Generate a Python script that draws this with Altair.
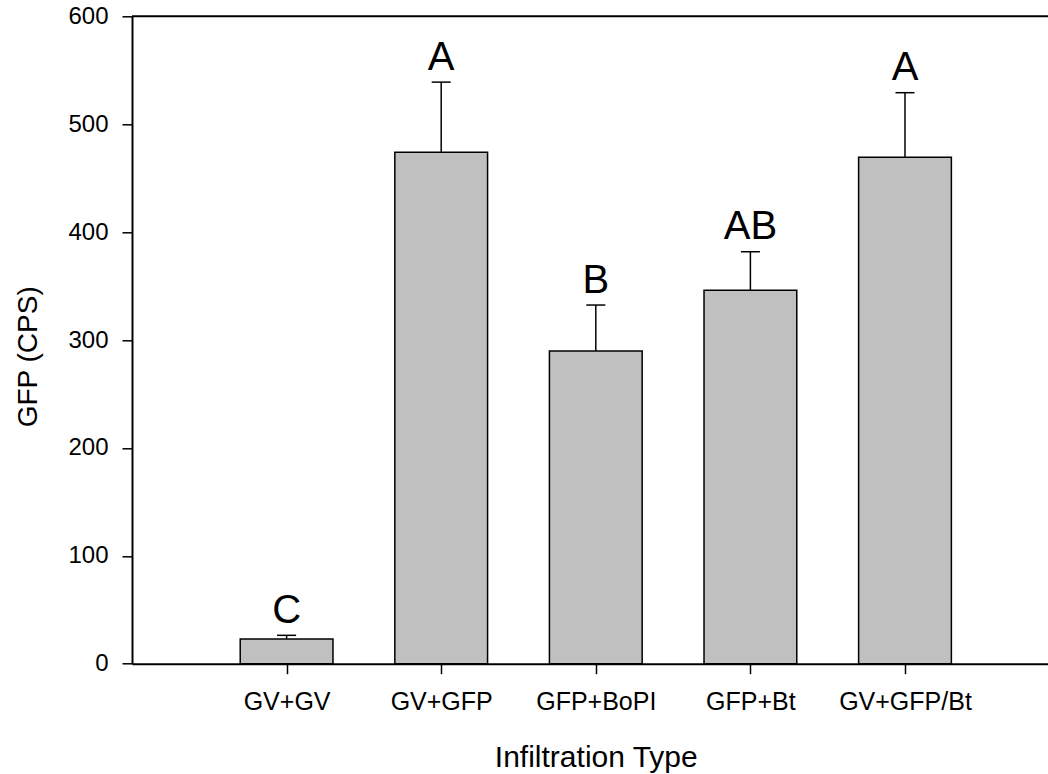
import altair as alt
import pandas as pd

categories = ["GV+GV", "GV+GFP", "GFP+BoPI", "GFP+Bt", "GV+GFP/Bt"]
means = [22.9, 474.0, 289.8, 346.0, 469.3]
errors = [3.4, 65.0, 42.6, 35.8, 59.9]
letters = ["C", "A", "B", "AB", "A"]
y_ticks = [0, 100, 200, 300, 400, 500, 600]

df = pd.DataFrame({
    "cat": categories,
    "mean": means,
    "err": errors,
    "letter": letters,
    "pos": list(range(1, len(categories) + 1)),
})

W = 916
H = 647.4
FONT = "Liberation Sans"

label_arr = "[''," + ",".join("'" + c + "'" for c in categories) + "]"

xscale = alt.Scale(domain=[0, 5.925], nice=False, zero=False)
yscale = alt.Scale(domain=[0, 600], nice=False)

x_axis = alt.Axis(
    values=list(range(1, len(categories) + 1)),
    labelExpr=label_arr + "[datum.value]",
    tickSize=10, tickWidth=1.5, tickColor="black",
    domainColor="black", domainWidth=2,
    labelFontSize=25, labelFont=FONT, labelColor="black",
    labelPadding=16, labelFlush=False, labelOverlap=False,
    grid=False,
    title="Infiltration Type", titleFontSize=30, titleFont=FONT,
    titleFontWeight="normal", titleColor="black",
    titleX=463.8, titleY=103, titleBaseline="alphabetic", titleAlign="center",
)
y_axis = alt.Axis(
    values=y_ticks,
    tickSize=10, tickWidth=1.5, tickColor="black",
    domainColor="black", domainWidth=2,
    labelFontSize=24, labelFont=FONT, labelColor="black",
    labelPadding=14, labelFlush=False, labelOverlap=False,
    grid=False,
    title="GFP (CPS)", titleFontSize=28, titleFont=FONT,
    titleFontWeight="normal", titleColor="black",
    titleX=-104, titleY=340, titleAngle=270,
    titleBaseline="middle", titleAlign="center",
)

base = alt.Chart(df).transform_calculate(
    x0="datum.pos - 0.3",
    x1="datum.pos + 0.3",
    c0="datum.pos - 0.0615",
    c1="datum.pos + 0.0615",
    top="datum.mean + datum.err",
)

bars = base.mark_bar(fill="#c0c0c0", stroke="black", strokeWidth=1.5).encode(
    x=alt.X("x0:Q", scale=xscale, axis=x_axis),
    x2="x1:Q",
    y=alt.Y("mean:Q", scale=yscale, axis=y_axis),
    y2=alt.datum(0),
)

err_line = base.mark_rule(color="black", strokeWidth=1.5).encode(
    x=alt.X("pos:Q", scale=xscale),
    y=alt.Y("mean:Q", scale=yscale),
    y2="top:Q",
)

caps = base.mark_rule(color="black", strokeWidth=1.5).encode(
    x=alt.X("c0:Q", scale=xscale),
    x2="c1:Q",
    y=alt.Y("top:Q", scale=yscale),
)

texts = base.mark_text(
    baseline="alphabetic", align="center", dy=-12.5, fontSize=40, font=FONT, color="black"
).encode(
    x=alt.X("pos:Q", scale=xscale),
    y=alt.Y("top:Q", scale=yscale),
    text="letter:N",
)

top_line = alt.Chart(df).mark_rule(color="black", strokeWidth=2).encode(
    y=alt.datum(600, scale=yscale) if False else alt.Y("v:Q", scale=yscale),
    x=alt.value(0),
    x2=alt.value(W),
).transform_aggregate(n="count()").transform_calculate(v="600")

chart = alt.layer(bars, err_line, caps, texts, top_line).properties(
    width=W,
    height=H,
    autosize=alt.AutoSizeParams(type="none"),
    padding={"left": 132, "top": 16.3, "right": 0, "bottom": 110.3},
    background="white",
).configure_view(stroke=None)

chart.save("out.html", embed_options={"renderer": "svg", "actions": False})
